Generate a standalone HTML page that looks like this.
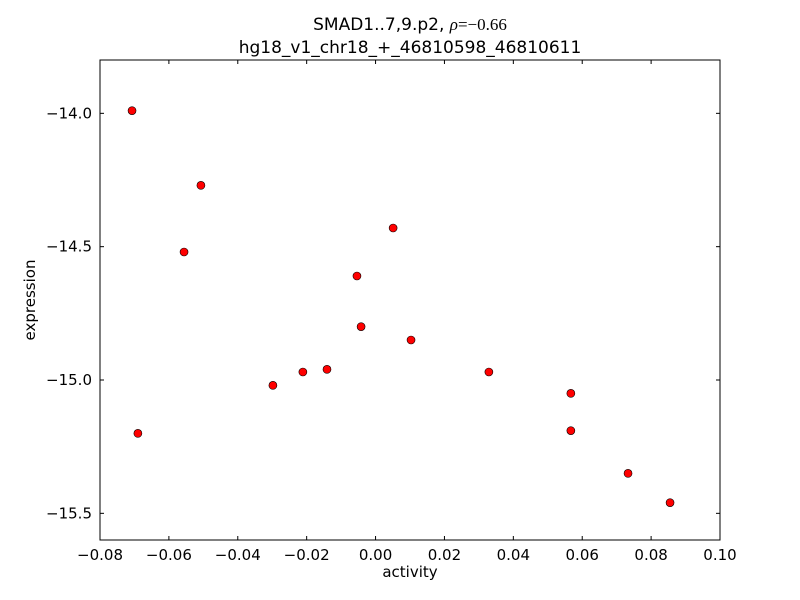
<!DOCTYPE html>
<html><head><meta charset="utf-8"><style>
body{margin:0;background:#fff;}
svg{display:block;font-family:"DejaVu Sans","Liberation Sans",sans-serif;}
</style></head><body>
<svg id="chart" width="800" height="600" viewBox="0 0 800 600">
<rect width="800" height="600" fill="#fff"/>
<text x="410" y="30" text-anchor="middle" font-size="17">SMAD1..7,9.p2, <tspan font-family="Liberation Serif,serif" font-style="italic">ρ</tspan><tspan font-family="Liberation Serif,serif">=−0.66</tspan></text>
<text x="410" y="53" text-anchor="middle" font-size="17">hg18_v1_chr18_+_46810598_46810611</text>
<g id="ticks"></g>
<g id="points"></g>
<rect x="100" y="60" width="620" height="480" fill="none" stroke="#000" stroke-width="1"/>
<text x="410" y="577" text-anchor="middle" font-size="15">activity</text>
<text x="35" y="300" text-anchor="middle" font-size="15" transform="rotate(-90 35 300)">expression</text>
</svg>
<script>
const xValues=[-0.0707,-0.0507,-0.0556,0.0051,-0.0054,-0.0042,0.0103,-0.0298,-0.0211,-0.0141,-0.069,0.0329,0.0567,0.0567,0.0733,0.0855];
const yValues=[-13.99,-14.27,-14.52,-14.43,-14.61,-14.80,-14.85,-15.02,-14.97,-14.96,-15.20,-14.97,-15.05,-15.19,-15.35,-15.46];
const xTicks=[-0.08,-0.06,-0.04,-0.02,0.00,0.02,0.04,0.06,0.08,0.10];
const xTickLabels=["−0.08","−0.06","−0.04","−0.02","0.00","0.02","0.04","0.06","0.08","0.10"];
const yTicks=[-14.0,-14.5,-15.0,-15.5];
const yTickLabels=["−14.0","−14.5","−15.0","−15.5"];
const X0=100,X1=720,Y0=60,Y1=540,xmin=-0.08,xmax=0.10,ymax=-13.8,ymin=-15.6;
const sx=v=>X0+(v-xmin)/(xmax-xmin)*(X1-X0);
const sy=v=>Y0+(ymax-v)/(ymax-ymin)*(Y1-Y0);
const NS="http://www.w3.org/2000/svg";
const tg=document.getElementById('ticks'),pg=document.getElementById('points');
function mk(t,a,p){const e=document.createElementNS(NS,t);for(const k in a)e.setAttribute(k,a[k]);p.appendChild(e);return e;}
xTicks.forEach((v,i)=>{const x=sx(v);
 mk('line',{x1:x,x2:x,y1:Y1,y2:Y1-4,stroke:'#000'},tg);
 mk('line',{x1:x,x2:x,y1:Y0,y2:Y0+4,stroke:'#000'},tg);
 const t=mk('text',{x:x,y:Y1+20,'text-anchor':'middle','font-size':15},tg);t.textContent=xTickLabels[i];
 
 
});
yTicks.forEach((v,i)=>{const y=sy(v);
 mk('line',{x1:X0,x2:X0+4,y1:y,y2:y,stroke:'#000'},tg);
 mk('line',{x1:X1,x2:X1-4,y1:y,y2:y,stroke:'#000'},tg);
 const t=mk('text',{x:X0-8,y:y+5,'text-anchor':'end','font-size':15},tg);t.textContent=yTickLabels[i];
 
 
});
xValues.forEach((v,i)=>{
 const c=mk('circle',{cx:sx(v),cy:sy(yValues[i]),r:4,fill:'#ff0000',stroke:'#000','stroke-width':0.6},pg);
 
 
});
</script>
</body></html>
